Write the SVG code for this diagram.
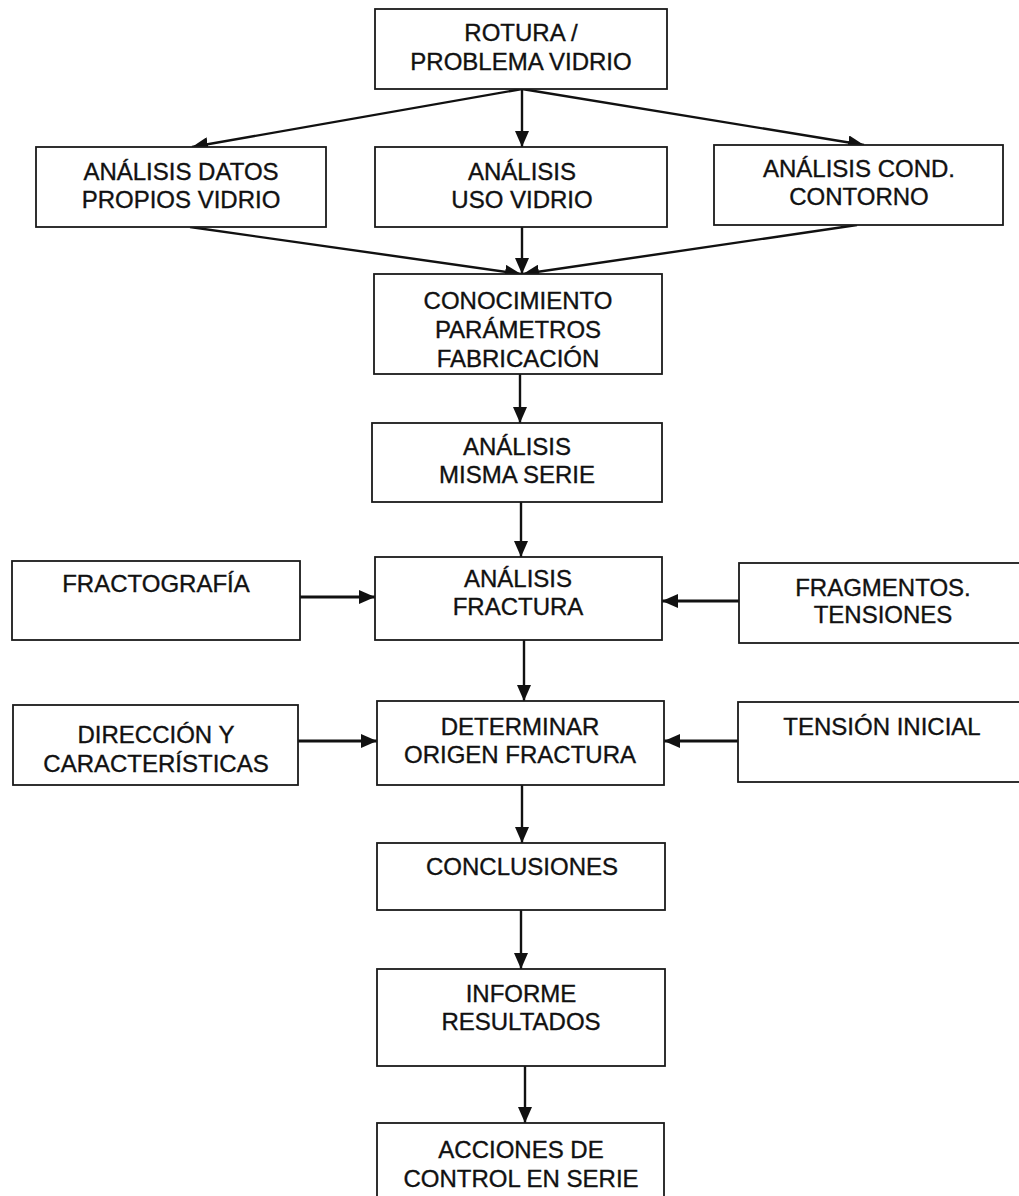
<svg xmlns="http://www.w3.org/2000/svg" width="1019" height="1196" viewBox="0 0 1019 1196">
  <style>
    .box { fill: #ffffff; stroke: #1a1a1a; stroke-width: 1.8; }
    .lbl { font-family: "Liberation Sans", Arial, sans-serif; font-size: 24px; fill: #111111; stroke: #111111; stroke-width: 0.35; text-anchor: middle; }
    .edge { stroke: #111111; stroke-width: 2.4; fill: none; marker-end: url(#arrow); }
    .edge-h { stroke: #111111; stroke-width: 3; fill: none; marker-end: url(#arrow); }
  </style>
  <defs>
    <marker id="arrow" markerUnits="userSpaceOnUse" markerWidth="16" markerHeight="14" refX="16" refY="7" orient="auto">
      <path d="M0,0 L16,7 L0,14 z" fill="#111111"/>
    </marker>
  </defs>
  <rect width="1019" height="1196" fill="#ffffff"/>

  <!-- connectors -->
  <g id="connectors">
    <line class="edge" x1="522" y1="89" x2="192" y2="147"/>
    <line class="edge" x1="522" y1="89" x2="522" y2="147"/>
    <line class="edge" x1="522" y1="89" x2="864" y2="145"/>
    <line class="edge" x1="190" y1="227" x2="521" y2="274"/>
    <line class="edge" x1="522" y1="227" x2="522" y2="274"/>
    <line class="edge" x1="857" y1="225" x2="523" y2="274"/>
    <line class="edge" x1="520" y1="374" x2="520" y2="423"/>
    <line class="edge" x1="521" y1="502" x2="521" y2="557"/>
    <line class="edge-h" x1="300" y1="597" x2="375" y2="597"/>
    <line class="edge-h" x1="739" y1="601" x2="662" y2="601"/>
    <line class="edge" x1="524" y1="640" x2="524" y2="701"/>
    <line class="edge-h" x1="298" y1="741" x2="377" y2="741"/>
    <line class="edge-h" x1="738" y1="741" x2="664" y2="741"/>
    <line class="edge" x1="522" y1="785" x2="522" y2="843"/>
    <line class="edge" x1="521" y1="910" x2="521" y2="969"/>
    <line class="edge" x1="525" y1="1066" x2="525" y2="1123"/>
  </g>

  <g id="n-rotura">
    <rect class="box" x="375" y="9" width="292" height="80"/>
    <text class="lbl" x="521" y="41">ROTURA /</text>
    <text class="lbl" x="521" y="70">PROBLEMA VIDRIO</text>
  </g>
  <g id="n-datos">
    <rect class="box" x="36" y="147" width="290" height="80"/>
    <text class="lbl" x="181" y="180">ANÁLISIS DATOS</text>
    <text class="lbl" x="181" y="208">PROPIOS VIDRIO</text>
  </g>
  <g id="n-uso">
    <rect class="box" x="375" y="147" width="292" height="80"/>
    <text class="lbl" x="522" y="180">ANÁLISIS</text>
    <text class="lbl" x="522" y="208">USO VIDRIO</text>
  </g>
  <g id="n-contorno">
    <rect class="box" x="714" y="145" width="289" height="80"/>
    <text class="lbl" x="859" y="177">ANÁLISIS COND.</text>
    <text class="lbl" x="859" y="205">CONTORNO</text>
  </g>
  <g id="n-conocimiento">
    <rect class="box" x="374" y="274" width="288" height="100"/>
    <text class="lbl" x="518" y="309">CONOCIMIENTO</text>
    <text class="lbl" x="518" y="338">PARÁMETROS</text>
    <text class="lbl" x="518" y="367">FABRICACIÓN</text>
  </g>
  <g id="n-serie">
    <rect class="box" x="372" y="423" width="290" height="79"/>
    <text class="lbl" x="517" y="455">ANÁLISIS</text>
    <text class="lbl" x="517" y="483">MISMA SERIE</text>
  </g>
  <g id="n-fractografia">
    <rect class="box" x="12" y="561" width="288" height="79"/>
    <text class="lbl" x="156" y="592">FRACTOGRAFÍA</text>
  </g>
  <g id="n-fractura">
    <rect class="box" x="375" y="557" width="287" height="83"/>
    <text class="lbl" x="518" y="587">ANÁLISIS</text>
    <text class="lbl" x="518" y="615">FRACTURA</text>
  </g>
  <g id="n-fragmentos">
    <rect class="box" x="739" y="563" width="290" height="80"/>
    <text class="lbl" x="883" y="596">FRAGMENTOS.</text>
    <text class="lbl" x="883" y="623">TENSIONES</text>
  </g>
  <g id="n-direccion">
    <rect class="box" x="13" y="705" width="285" height="80"/>
    <text class="lbl" x="156" y="743">DIRECCIÓN Y</text>
    <text class="lbl" x="156" y="772">CARACTERÍSTICAS</text>
  </g>
  <g id="n-origen">
    <rect class="box" x="377" y="701" width="287" height="84"/>
    <text class="lbl" x="520" y="735">DETERMINAR</text>
    <text class="lbl" x="520" y="763">ORIGEN FRACTURA</text>
  </g>
  <g id="n-tension">
    <rect class="box" x="738" y="702" width="290" height="80"/>
    <text class="lbl" x="882" y="735">TENSIÓN INICIAL</text>
  </g>
  <g id="n-conclusiones">
    <rect class="box" x="377" y="843" width="288" height="67"/>
    <text class="lbl" x="522" y="875">CONCLUSIONES</text>
  </g>
  <g id="n-informe">
    <rect class="box" x="377" y="969" width="288" height="97"/>
    <text class="lbl" x="521" y="1002">INFORME</text>
    <text class="lbl" x="521" y="1030">RESULTADOS</text>
  </g>
  <g id="n-acciones">
    <rect class="box" x="377" y="1123" width="287" height="80"/>
    <text class="lbl" x="521" y="1158">ACCIONES DE</text>
    <text class="lbl" x="521" y="1187">CONTROL EN SERIE</text>
  </g>
</svg>
